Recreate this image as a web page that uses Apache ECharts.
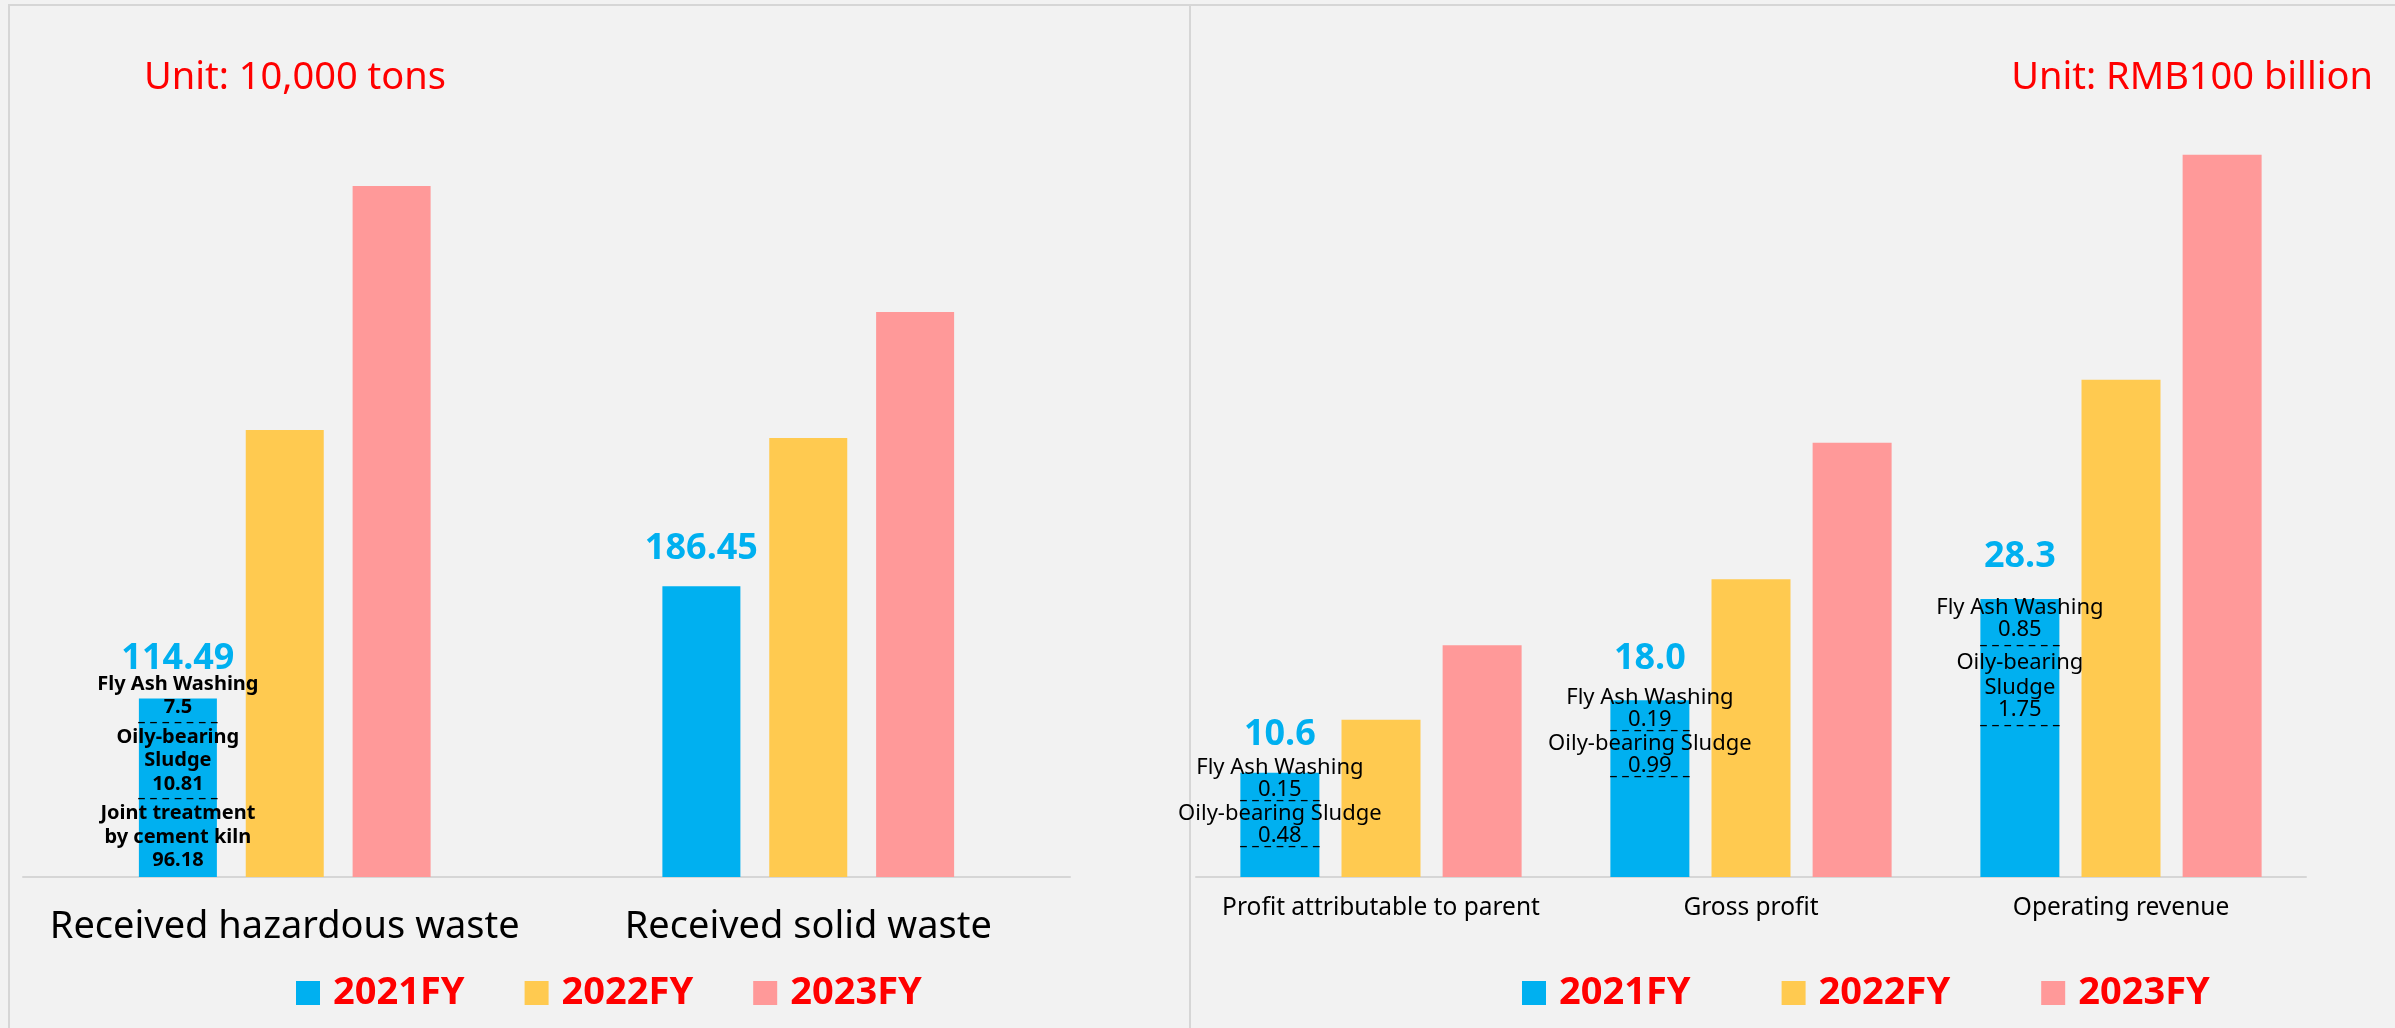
<!DOCTYPE html>
<html>
<head>
<meta charset="utf-8">
<script src="https://cdn.jsdelivr.net/npm/echarts@6/dist/echarts.min.js"></script>
<style>
  html, body { margin: 0; padding: 0; background: #f2f2f2; }
  #chart { width: 2395px; height: 1028px; }
</style>
</head>
<body>
<div id="chart"></div>
<script>
// ---------------- data ----------------
const seriesNames = ['2021FY', '2022FY', '2023FY'];

const wasteCategories = ['Received hazardous waste', 'Received solid waste'];
const waste2021 = [114.49, 186.45];
const waste2022 = [286.5, 281.4];
const waste2023 = [443.0, 362.2];
const wasteBreakdown2021 = [
  [['Fly Ash Washing', '7.5'], ['Oily-bearing', 'Sludge', '10.81'], ['Joint treatment', 'by cement kiln', '96.18']],
  []
];

const finCategories = ['Profit attributable to parent', 'Gross profit', 'Operating revenue'];
const fin2021 = [10.6, 18.0, 28.3];
const fin2022 = [16.0, 30.3, 50.6];
const fin2023 = [23.6, 44.2, 73.5];
const finBreakdown2021 = [
  [['Fly Ash Washing', '0.15'], ['Oily-bearing Sludge', '0.48']],
  [['Fly Ash Washing', '0.19'], ['Oily-bearing Sludge', '0.99']],
  [['Fly Ash Washing', '0.85'], ['Oily-bearing', 'Sludge', '1.75']]
];

const unitLeft = 'Unit: 10,000 tons';
const unitRight = 'Unit: RMB100 billion';

// ---------------- styles ----------------
const FONT = 'Noto Sans';
const colors = ['#00B0F0', '#FFCA50', '#FF9999'];
const DASH = '\u2013 \u2013 \u2013 \u2013 \u2013 \u2013 \u2013';

// per-item label placement (style only)
const wasteLabelStyle = [
  { offset: -54, gap: 0, dash: 'dl', dashLast: false },
  { offset: -51, gap: 0, dash: 'dl', dashLast: false }
];
const finLabelStyle = [
  { offset: -52, gap: 6, dash: 'dt', dashLast: true },
  { offset: -55, gap: 12, dash: 'dt', dashLast: true },
  { offset: -56, gap: 24, dash: 'dl', dashLast: true }
];

function buildLabel(value, decimals, groups, st) {
  const lines = ['{v|' + value.toFixed(decimals) + '}'];
  if (st.gap > 0) lines.push('{g' + st.gap + '| }');
  groups.forEach((g, gi) => {
    g.forEach((s, si) => lines.push('{' + (si === g.length - 1 ? 'n' : 't') + '|' + s + '}'));
    if (gi < groups.length - 1 || st.dashLast) lines.push('{' + st.dash + '|' + DASH + '}');
  });
  return lines.join('\n');
}

const richLeft = {
  v: { fontSize: 36, fontWeight: 'bold', color: '#00B0F0', lineHeight: 28, fontFamily: FONT, align: 'center' },
  t: { fontSize: 20, fontWeight: 'bold', color: '#000', lineHeight: 23.5, fontFamily: FONT, align: 'center' },
  n: { fontSize: 20, fontWeight: 'bold', color: '#000', lineHeight: 23.5, fontFamily: FONT, align: 'center' },
  dl: { fontSize: 16, color: '#000', lineHeight: 6, fontFamily: FONT, align: 'center' }
};
const richRight = {
  v: { fontSize: 36, fontWeight: 'bold', color: '#00B0F0', lineHeight: 28, fontFamily: FONT, align: 'center' },
  t: { fontSize: 22, color: '#000', lineHeight: 25, fontFamily: FONT, align: 'center' },
  n: { fontSize: 22, color: '#000', lineHeight: 20, fontFamily: FONT, align: 'center' },
  dt: { fontSize: 16, color: '#000', lineHeight: 1, fontFamily: FONT, align: 'center' },
  dl: { fontSize: 16, color: '#000', lineHeight: 10, fontFamily: FONT, align: 'center' },
  g6: { fontSize: 6, lineHeight: 6 },
  g12: { fontSize: 12, lineHeight: 12 },
  g24: { fontSize: 24, lineHeight: 24 }
};

function labelledData(values, decimals, breakdown, styles) {
  return values.map((v, i) => ({
    value: v,
    label: {
      show: true,
      position: 'insideTop',
      distance: 0,
      offset: [0, styles[i].offset],
      formatter: buildLabel(v, decimals, breakdown[i], styles[i])
    }
  }));
}

const chart = echarts.init(document.getElementById('chart'), null, { renderer: 'canvas' });

function barSeries(name, idx, data, axis, extra) {
  return Object.assign({
    name: name,
    type: 'bar',
    xAxisIndex: axis,
    yAxisIndex: axis,
    data: data,
    itemStyle: { color: colors[idx] },
    barWidth: axis === 0 ? 78 : 79,
    barGap: axis === 0 ? '37%' : '28%',
    emphasis: { disabled: true },
    animation: false
  }, extra || {});
}

const legendCommon = {
  top: 973,
  padding: 0,
  icon: 'rect',
  itemWidth: 24,
  itemHeight: 24,
  data: seriesNames,
  selectedMode: false,
  textStyle: { color: '#FF0000', fontSize: 38, fontWeight: 'bold', fontFamily: FONT, lineHeight: 40, padding: [0, 0, 0, 8] }
};

const option = {
  backgroundColor: 'transparent',
  animation: false,
  title: [
    { text: unitLeft, left: 144, top: 56, padding: 0,
      textStyle: { color: '#FF0000', fontSize: 38, fontWeight: 'normal', fontFamily: FONT, lineHeight: 44 } },
    { text: unitRight, right: 22, top: 56, padding: 0,
      textStyle: { color: '#FF0000', fontSize: 38, fontWeight: 'normal', fontFamily: FONT, lineHeight: 44 } }
  ],
  legend: [
    Object.assign({}, legendCommon, { left: 296, itemGap: 60 }),
    Object.assign({}, legendCommon, { left: 1522, itemGap: 91 })
  ],
  graphic: [
    { type: 'rect', silent: true, z: -1, shape: { x: 9, y: 5, width: 1181, height: 1100 },
      style: { fill: null, stroke: '#d6d6d6', lineWidth: 2 } },
    { type: 'rect', silent: true, z: -1, shape: { x: 1190, y: 5, width: 1300, height: 1100 },
      style: { fill: null, stroke: '#d6d6d6', lineWidth: 2 } }
  ],
  grid: [
    { left: 23, width: 1047, top: 97, bottom: 151, outerBoundsMode: 'none' },
    { left: 1196, width: 1110, top: 91, bottom: 151, outerBoundsMode: 'none' }
  ],
  xAxis: [
    { type: 'category', gridIndex: 0, data: wasteCategories,
      axisLine: { lineStyle: { color: '#d6d6d6', width: 2 } }, axisTick: { show: false },
      axisLabel: { interval: 0, fontSize: 38, color: '#000', margin: 29, lineHeight: 42, fontFamily: FONT } },
    { type: 'category', gridIndex: 1, data: finCategories,
      axisLabel: { interval: 0, fontSize: 24.5, color: '#000', margin: 17, lineHeight: 28, fontFamily: FONT },
      axisLine: { lineStyle: { color: '#d6d6d6', width: 2 } }, axisTick: { show: false } }
  ],
  yAxis: [
    { type: 'value', gridIndex: 0, min: 0, max: 500, show: false, splitLine: { show: false } },
    { type: 'value', gridIndex: 1, min: 0, max: 80, show: false, splitLine: { show: false } }
  ],
  series: [
    barSeries(seriesNames[0], 0, labelledData(waste2021, 2, wasteBreakdown2021, wasteLabelStyle), 0,
      { z: 3, label: { rich: richLeft } }),
    barSeries(seriesNames[1], 1, waste2022, 0),
    barSeries(seriesNames[2], 2, waste2023, 0),
    barSeries(seriesNames[0], 0, labelledData(fin2021, 1, finBreakdown2021, finLabelStyle), 1,
      { z: 3, label: { rich: richRight } }),
    barSeries(seriesNames[1], 1, fin2022, 1),
    barSeries(seriesNames[2], 2, fin2023, 1)
  ]
};

chart.setOption(option);
</script>
</body>
</html>
